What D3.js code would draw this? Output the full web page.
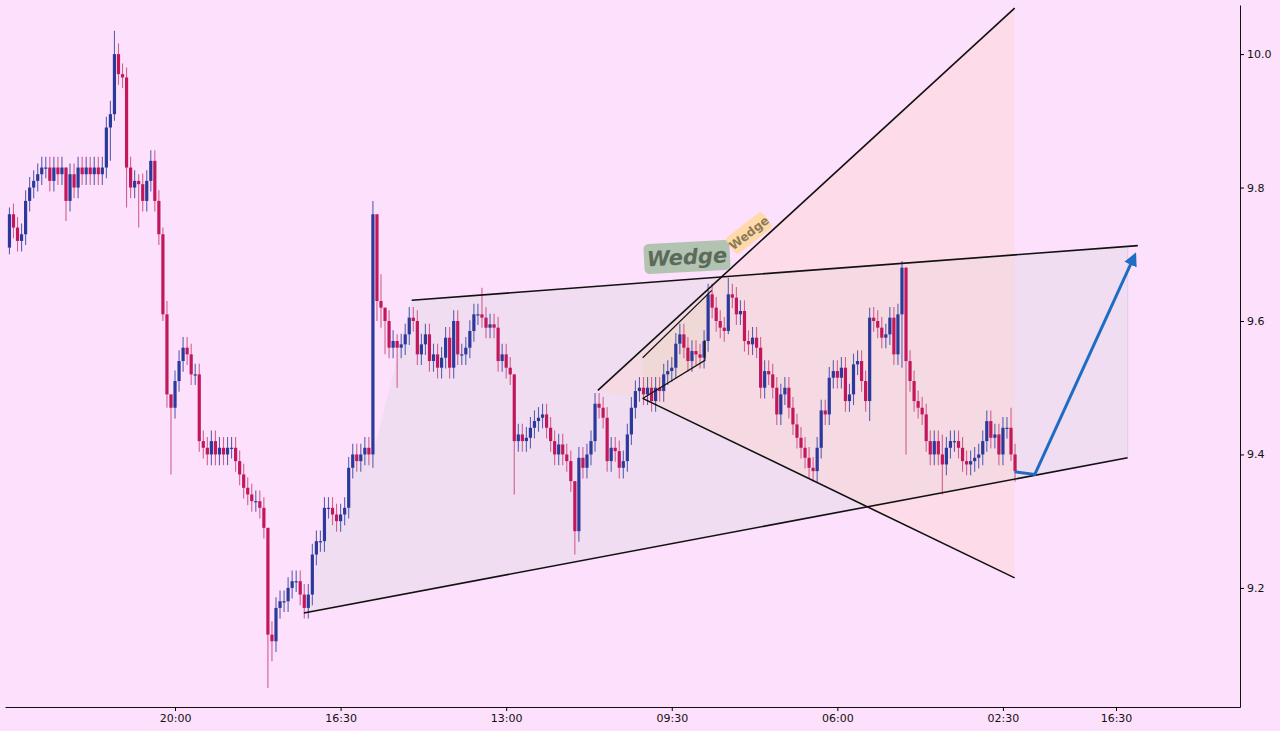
<!DOCTYPE html>
<html><head><meta charset="utf-8">
<script src="https://cdn.jsdelivr.net/npm/d3@7"></script>
<style>body{margin:0;background:#fde0fb;}svg{display:block;font-family:"DejaVu Sans",sans-serif;}</style>
</head><body><svg id="c" width="1280" height="731"></svg>
<script>
// closing prices of 30-minute candles (open = previous close)
const closes = [
9.76,9.74,9.72,9.73,9.78,9.80,9.81,9.82,9.83,9.83,
9.81,9.83,9.82,9.83,9.78,9.82,9.80,9.83,9.82,9.83,
9.82,9.83,9.82,9.83,9.89,9.91,10.00,9.97,9.965,9.83,
9.80,9.81,9.805,9.78,9.81,9.84,9.78,9.73,9.61,9.49,
9.47,9.51,9.54,9.56,9.55,9.52,9.52,9.42,9.41,9.40,
9.42,9.40,9.41,9.40,9.41,9.41,9.39,9.37,9.35,9.34,
9.33,9.33,9.32,9.29,9.13,9.12,9.17,9.18,9.18,9.20,
9.21,9.21,9.19,9.17,9.19,9.25,9.27,9.27,9.32,9.32,
9.31,9.30,9.31,9.32,9.38,9.40,9.39,9.40,9.41,9.40,
9.76,9.63,9.62,9.60,9.56,9.57,9.56,9.565,9.58,9.605,
9.60,9.55,9.565,9.58,9.54,9.55,9.53,9.545,9.575,9.53,
9.60,9.55,9.55,9.56,9.585,9.61,9.61,9.605,9.59,9.595,
9.59,9.54,9.55,9.53,9.52,9.42,9.43,9.42,9.425,9.44,
9.45,9.455,9.46,9.44,9.42,9.40,9.415,9.40,9.39,9.36,
9.285,9.395,9.38,9.40,9.42,9.476,9.47,9.455,9.39,9.41,
9.405,9.38,9.39,9.43,9.47,9.495,9.50,9.49,9.50,9.48,
9.50,9.495,9.52,9.525,9.53,9.566,9.58,9.56,9.54,9.555,
9.55,9.545,9.57,9.64,9.62,9.60,9.59,9.585,9.64,9.635,
9.61,9.615,9.57,9.565,9.575,9.56,9.50,9.525,9.52,9.50,
9.46,9.49,9.50,9.47,9.445,9.425,9.41,9.395,9.38,9.375,
9.41,9.466,9.46,9.515,9.525,9.515,9.53,9.48,9.49,9.535,
9.54,9.51,9.48,9.605,9.60,9.59,9.575,9.58,9.605,9.55,
9.61,9.68,9.54,9.51,9.48,9.47,9.46,9.42,9.40,9.42,
9.40,9.385,9.41,9.42,9.42,9.41,9.39,9.385,9.39,9.395,
9.40,9.42,9.45,9.425,9.43,9.40,9.44,9.44,9.40,9.375];
const firstOpen = 9.71;
// notable wicks: [candle index, high, low]
const wicks = [[0,9.77,9.70],[14,9.83,9.75],[26,10.035,9.90],[25,9.93,9.84],[29,9.98,9.77],[32,9.82,9.74],
[38,9.74,9.60],[39,9.63,9.47],[40,9.49,9.37],[64,9.29,9.05],[65,9.15,9.09],[90,9.78,9.38],[91,9.70,9.60],
[92,9.67,9.59],[93,9.62,9.55],[96,9.58,9.50],[117,9.65,9.59],[125,9.52,9.34],[140,9.36,9.25],
[178,9.665,9.58],[213,9.62,9.45],[221,9.69,9.53],[222,9.68,9.40],[231,9.43,9.34],[248,9.47,9.39]];
const xTicks = [[41,"20:00"],[82,"16:30"],[123,"13:00"],[164,"09:30"],[205,"06:00"],[246,"02:30"],[274,"16:30"]];
const yTicks = [9.2,9.4,9.6,9.8,10.0];
// pattern lines [i1,p1,i2,p2]
const channelTop = [99.6,9.631,279.4,9.713];
const channelBot = [72.9,9.1625,276.9,9.395];
const fanUpper = [145.7,9.496,248.9,10.069];
const fanLower = [156.8,9.484,248.9,9.215];
const innerUpper = [156.8,9.545,173.9,9.646];
const innerLower = [156.8,9.484,172.2,9.541,172.2,9.571];
const projection = [[248.9,9.374],[253.9,9.370],[278.0,9.690]];

const svg = d3.select("#c");
const x = d3.scaleLinear().domain([-1.1,304.7]).range([5,1240]);
const y = d3.scaleLinear().domain([9.0215,10.0736]).range([707,5]);

const data = closes.map((c,i)=>{
  const o = i===0?firstOpen:closes[i-1];
  let h = Math.max(o,c)+0.016, l = Math.min(o,c)-0.016;
  const w = wicks.find(d=>d[0]===i); if(w){h=w[1];l=w[2];}
  return {i,o,c,h,l};
});

const leftEdge = data.filter(d=>d.i>=73&&d.i<=90).map(d=>[d.i,Math.min(d.o,d.c)]);
const chanPts = [[channelBot[0],channelBot[1]],...leftEdge.slice(1),[99.6,9.631],[channelTop[2]-2.5,9.712],[channelBot[2],channelBot[3]]];
svg.append("polygon").attr("points",chanPts.map(p=>[x(p[0]),y(p[1])].join(",")).join(" "))
  .attr("fill","rgba(215,215,225,0.35)");
const fanPts=[[fanUpper[0],fanUpper[1]],[fanUpper[2],fanUpper[3]],[fanLower[2],fanLower[3]],[fanLower[0],fanLower[1]]];
svg.append("polygon").attr("points",fanPts.map(p=>[x(p[0]),y(p[1])].join(",")).join(" "))
  .attr("fill","rgba(255,210,200,0.35)");
const innerPts=[[156.8,9.545],[173.9,9.646],[172.2,9.571],[172.2,9.541],[156.8,9.484]];
svg.append("polygon").attr("points",innerPts.map(p=>[x(p[0]),y(p[1])].join(",")).join(" "))
  .attr("fill","rgba(230,215,190,0.35)");

const g = svg.append("g");
g.selectAll("line.w").data(data).join("line")
  .attr("x1",d=>x(d.i)).attr("x2",d=>x(d.i)).attr("y1",d=>y(d.h)).attr("y2",d=>y(d.l))
  .attr("stroke",d=>d.c>=d.o?"#5a60b0":"#d0608f").attr("stroke-width",1.1);
g.selectAll("rect").data(data).join("rect")
  .attr("x",d=>x(d.i)-1.6).attr("width",3.2)
  .attr("y",d=>y(Math.max(d.o,d.c))).attr("height",d=>Math.max(1.2,Math.abs(y(d.o)-y(d.c))))
  .attr("fill",d=>d.c>=d.o?"#2b3a9a":"#c2185b");

function seg(a,w){svg.append("line").attr("x1",x(a[0])).attr("y1",y(a[1])).attr("x2",x(a[2])).attr("y2",y(a[3]))
  .attr("stroke","#111").attr("stroke-width",w||1.6);}
seg(channelTop);seg(channelBot);seg(fanUpper);seg(fanLower);seg(innerUpper,1.2);
svg.append("polyline").attr("points",[[innerLower[0],innerLower[1]],[innerLower[2],innerLower[3]],[innerLower[4],innerLower[5]]].map(p=>[x(p[0]),y(p[1])].join(",")).join(" "))
  .attr("fill","none").attr("stroke","#111").attr("stroke-width",1.2);
svg.append("line").attr("x1",x(channelBot[2])).attr("x2",x(channelBot[2])).attr("y1",y(channelBot[3])).attr("y2",y(9.71))
  .attr("stroke","rgba(200,190,220,0.5)");

svg.append("defs").append("marker").attr("id","ah").attr("viewBox","0 0 10 10").attr("refX",3).attr("refY",5)
  .attr("markerWidth",4.5).attr("markerHeight",4.5).attr("orient","auto")
  .append("path").attr("d","M0,0L10,5L0,10z").attr("fill","#1f6cc4");
svg.append("polyline").attr("points",projection.map(p=>[x(p[0]),y(p[1])].join(",")).join(" "))
  .attr("fill","none").attr("stroke","#1f6cc4").attr("stroke-width",3).attr("marker-end","url(#ah)");

const l1 = svg.append("g").attr("transform","translate(687,257) rotate(-3)");
l1.append("rect").attr("x",-43).attr("y",-15).attr("width",86).attr("height",30).attr("rx",5).attr("fill","rgba(130,175,130,0.6)");
l1.append("text").attr("text-anchor","middle").attr("dy","0.35em").attr("font-size",21).attr("font-weight","bold")
  .attr("font-style","italic").attr("fill","#5b6a5a").text("Wedge");
const l2 = svg.append("g").attr("transform","translate(749,233) rotate(-38)");
l2.append("rect").attr("x",-23).attr("y",-10).attr("width",46).attr("height",20).attr("rx",4).attr("fill","rgba(255,215,150,0.8)");
l2.append("text").attr("text-anchor","middle").attr("dy","0.35em").attr("font-size",12).attr("font-weight","bold")
  .attr("fill","#8a7a55").text("Wedge");

const xa = svg.append("g").attr("transform","translate(0,707)")
  .call(d3.axisBottom(x).tickValues(xTicks.map(d=>d[0])).tickFormat((d,i)=>xTicks[i][1]).tickSize(4).tickSizeOuter(0));
const ya = svg.append("g").attr("transform","translate(1240,0)")
  .call(d3.axisRight(y).tickValues(yTicks).tickFormat(d3.format(".1f")).tickSize(4).tickSizeOuter(0));
[xa,ya].forEach(a=>{a.selectAll("text").attr("font-size",11).attr("fill","#111").attr("font-family","DejaVu Sans");
  a.select(".domain").attr("stroke","#111");});
</script></body></html>
